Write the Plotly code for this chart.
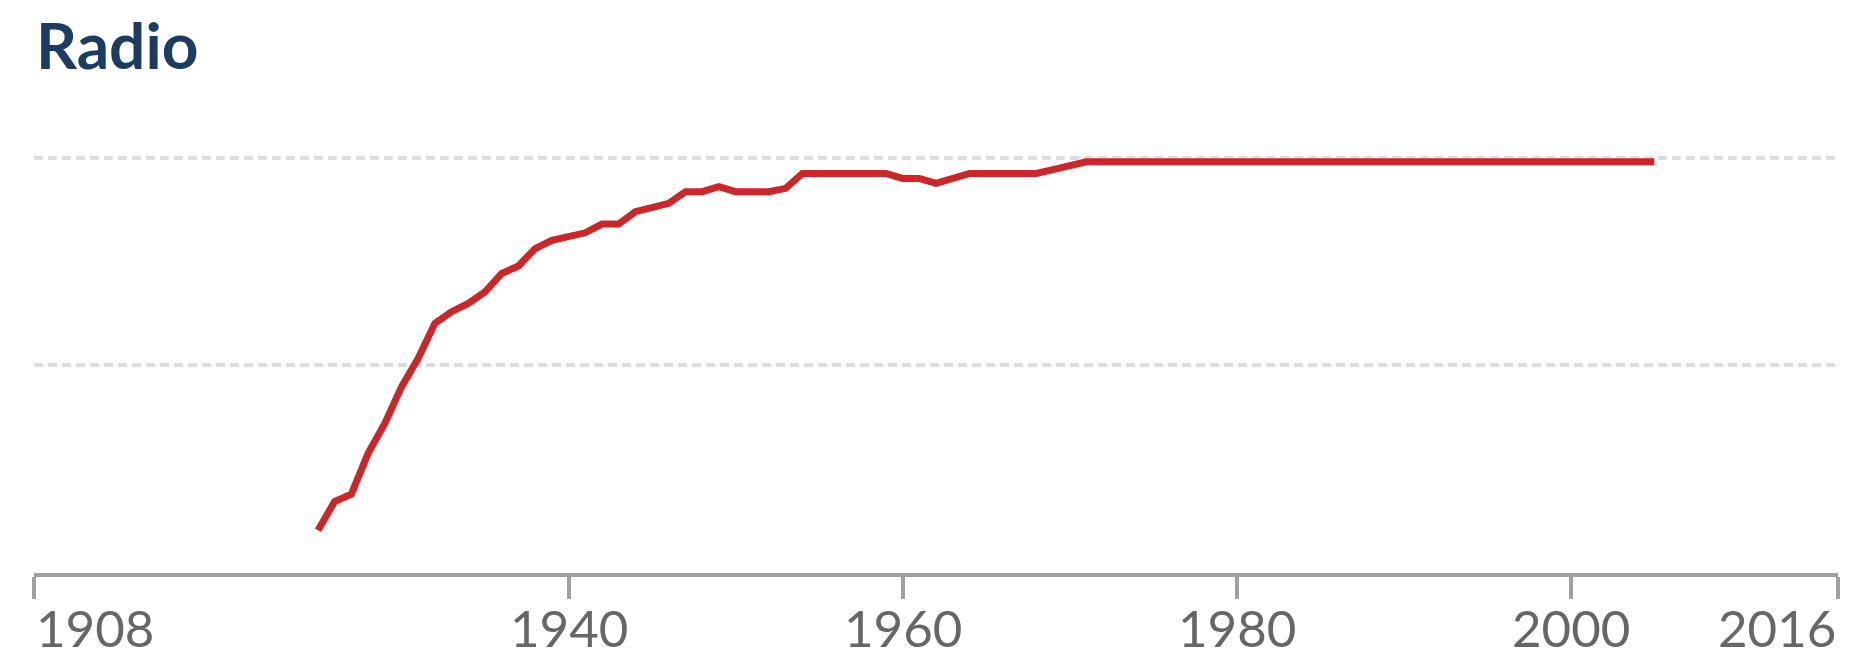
import plotly.graph_objects as go

# Share of households with a radio (percent)
YEARS = list(range(1925, 2006))
SHARE = [
    10.3, 17.2, 19.0, 28.8, 36.0, 44.8, 51.7, 60.1, 62.9, 64.9,   # 1925-1934
    67.7, 72.1, 73.9, 78.1, 80.1, 80.9, 81.9, 84.0, 84.0, 87.0,   # 1935-1944
    87.9, 89.0, 91.8, 91.8, 93.0, 91.8, 91.8, 91.8, 92.6, 96.2,   # 1945-1954
    96.2, 96.2, 96.2, 96.2, 96.2, 95.0, 95.0, 93.8, 95.0, 96.2,   # 1955-1964
    96.2, 96.2, 96.2, 96.2, 97.1, 98.0, 99.0, 99.0, 99.0, 99.0,   # 1965-1974
    99.0, 99.0, 99.0, 99.0, 99.0, 99.0, 99.0, 99.0, 99.0, 99.0,   # 1975-1984
    99.0, 99.0, 99.0, 99.0, 99.0, 99.0, 99.0, 99.0, 99.0, 99.0,   # 1985-1994
    99.0, 99.0, 99.0, 99.0, 99.0, 99.0, 99.0, 99.0, 99.0, 99.0,   # 1995-2004
    99.0,                                                         # 2005
]

TICK_YEARS = [1908, 1940, 1960, 1980, 2000, 2016]
TICK_LABELS = ["1908", "1940", "1960", "1980", "2000", "2016"]

TITLE = "Radio"

fig = go.Figure()

fig.add_trace(go.Scatter(
    x=YEARS,
    y=SHARE,
    mode="lines",
    line=dict(color="#cd2628", width=7),
    hoverinfo="skip",
    showlegend=False,
))

# tick labels: first one hangs right, last one hangs left, others centred
for year, label in zip(TICK_YEARS, TICK_LABELS):
    if year == TICK_YEARS[0]:
        anchor = "left"
    elif year == TICK_YEARS[-1]:
        anchor = "right"
    else:
        anchor = "center"
    fig.add_annotation(
        x=year,
        y=0,
        xref="x",
        yref="paper",
        text=label,
        showarrow=False,
        xanchor=anchor,
        yanchor="top",
        yshift=-22,
        font=dict(family="Lato", size=51, color="#666666"),
    )

fig.update_xaxes(
    range=[1908, 2016],
    tickvals=TICK_YEARS,
    showticklabels=False,
    ticks="outside",
    ticklen=22,
    tickwidth=3.5,
    tickcolor="#a0a0a0",
    showline=True,
    linecolor="#a0a0a0",
    linewidth=4,
    showgrid=False,
    zeroline=False,
)

fig.update_yaxes(
    range=[0, 104],
    tickvals=[50, 100],
    showticklabels=False,
    showgrid=True,
    gridcolor="#dddddd",
    gridwidth=3.5,
    griddash="9px,5px",
    zeroline=False,
)

fig.update_layout(
    title=dict(
        text=TITLE,
        x=36 / 1871,
        xanchor="left",
        xref="container",
        y=1 - 47 / 663,
        yanchor="middle",
        yref="container",
        font=dict(family="Lato", size=64, weight=700, color="#1d3c64"),
    ),
    width=1871,
    height=663,
    margin=dict(l=34, r=33, t=141, b=90),
    plot_bgcolor="white",
    paper_bgcolor="white",
)

# the page body has a default 8px margin; drop it so the figure sits at 0,0
fig.write_html(
    "out.html",
    config={"displayModeBar": False},
    post_script="document.body.style.margin = '0';",
)
